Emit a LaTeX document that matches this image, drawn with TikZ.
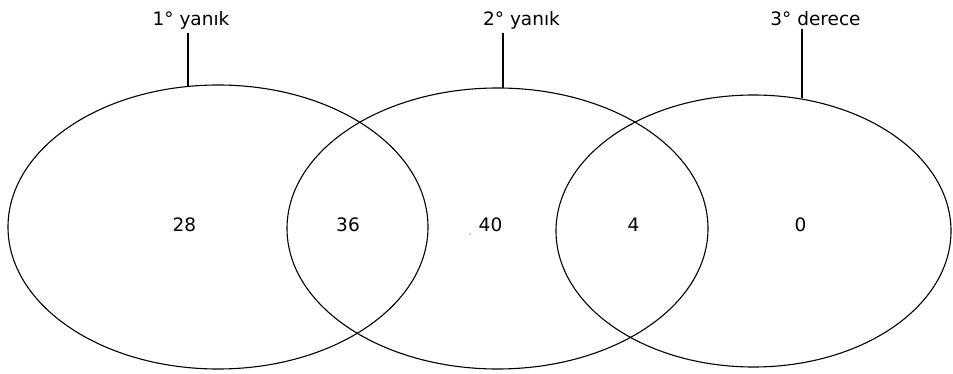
\documentclass[tikz,border=0pt]{standalone}
\usepackage{fontspec}
\setmainfont{DejaVu Sans}
\usetikzlibrary{shapes.geometric}
\begin{document}
\begin{tikzpicture}[x=1pt,y=-1pt,
  vennset/.style={draw=black,line width=1.1pt,shape=ellipse,inner sep=0pt},
  lbl/.style={font=\fontsize{18.5}{20}\selectfont,inner sep=0pt,anchor=base,text=black},
  conn/.style={draw=black,line width=1.1pt}]
\fill[white] (0,0) rectangle (953,374);
\useasboundingbox (0,0) rectangle (953,374);
% sets
\node[vennset,minimum width=420pt,minimum height=284pt] (e1) at (218,227) {};
\node[vennset,minimum width=421pt,minimum height=281pt] (e2) at (497.5,228.5) {};
\node[vennset,minimum width=395pt,minimum height=272pt] (e3) at (753.5,231) {};
% titles
\node[lbl] (l1) at (191,26) {1° yanık};
\node[lbl] (l2) at (521.5,26) {2° yanık};
\node[lbl] (l3) at (815.5,26) {3° derece};
% points on the set borders
\coordinate (t1) at (188,86.5);
\coordinate (t2) at (503,88);
\coordinate (t3) at (802,98);
\draw[conn] (t1 |- l1.south) ++(0,2.5) -- (t1);
\draw[conn] (t2 |- l2.south) ++(0,2.5) -- (t2);
\draw[conn] (t3 |- l3.south) ++(0,2.5) -- (t3);
% counts
\node[lbl] (n1) at (184.5,232) {28};
\node[lbl] (n12) at (348,232) {36};
\node[lbl] (n2) at (490.5,232) {40};
\node[lbl] (n23) at (633.5,232) {4};
\node[lbl] (n3) at (800.5,232) {0};
\node[circle,fill=orange!60,inner sep=0pt,minimum size=2pt] (dot) at (470,234) {};
\end{tikzpicture}
\end{document}
